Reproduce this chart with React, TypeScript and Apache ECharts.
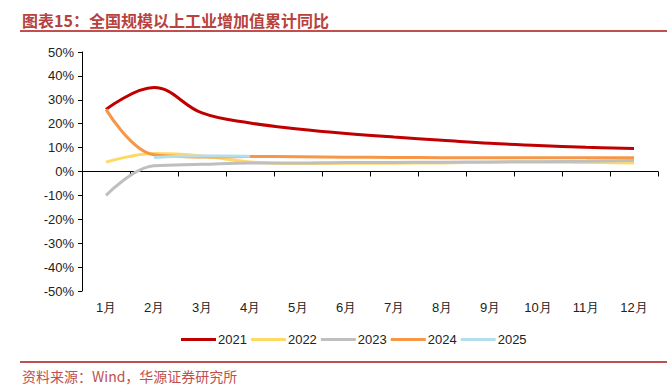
import React, { useEffect, useRef } from "react";
import * as echarts from "echarts";

const months = ["1月", "2月", "3月", "4月", "5月", "6月", "7月", "8月", "9月", "10月", "11月", "12月"];
const s2021 = [26.0, 35.1, 24.5, 20.3, 17.8, 15.9, 14.4, 13.1, 11.8, 10.9, 10.1, 9.6];
const s2022 = [3.9, 7.5, 6.5, 4.0, 3.3, 3.4, 3.5, 3.6, 3.9, 4.0, 3.8, 3.6];
const s2023 = [-10.0, 2.4, 3.0, 3.6, 3.6, 3.8, 3.8, 3.9, 4.0, 4.1, 4.3, 4.6];
const s2024 = [26.0, 7.0, 6.1, 6.3, 6.2, 6.0, 5.9, 5.8, 5.8, 5.8, 5.8, 5.8];
const s2025 = [null, 5.9, 6.5, 6.4, null, null, null, null, null, null, null, null];
const seriesNames = ["2021", "2022", "2023", "2024", "2025"];
const seriesColors = ["#C00000", "#FFD966", "#BFBFBF", "#F79646", "#B4DEEA"];
const seriesData = [s2021, s2022, s2023, s2024, s2025];

export default function App() {
  const ref = useRef<HTMLDivElement>(null);
  useEffect(() => {
    if (!ref.current) return;
    const chart = echarts.init(ref.current, null, { renderer: "svg" });
    const font = "'Liberation Sans', Arial, sans-serif";
    chart.setOption({
      animation: false,
      textStyle: { fontFamily: font },
      grid: { left: 82, right: 9, top: 52, bottom: 97 },
      legend: {
        left: 176,
        top: 328,
        itemWidth: 35,
        itemHeight: 3,
        itemGap: 4,
        icon: "rect",
        textStyle: { fontSize: 13, color: "#222", fontFamily: font, padding: [0, 0, 0, -3] },
        data: seriesNames,
      },
      xAxis: [
        {
          type: "category",
          data: months,
          boundaryGap: true,
          axisLine: { onZero: true, lineStyle: { color: "#000", width: 1 } },
          axisTick: { show: true, length: 5, inside: false, lineStyle: { color: "#000" } },
          axisLabel: { show: false },
          splitLine: { show: false },
        },
        {
          type: "category",
          data: months,
          position: "bottom",
          boundaryGap: true,
          axisLine: { show: false, onZero: false },
          axisTick: { show: false },
          axisLabel: { show: true, fontSize: 13, color: "#222", margin: 10, fontFamily: font },
          splitLine: { show: false },
        },
      ],
      yAxis: {
        type: "value",
        min: -50,
        max: 50,
        interval: 10,
        axisLine: { show: true, lineStyle: { color: "#000" } },
        axisTick: { show: true, length: 4, lineStyle: { color: "#000" } },
        splitLine: { show: false },
        axisLabel: { formatter: "{value}%", fontSize: 13, color: "#222", margin: 8, fontFamily: font },
      },
      series: seriesNames.map((n, i) => ({
        name: n,
        type: "line",
        xAxisIndex: 0,
        data: seriesData[i],
        smooth: 0.4,
        symbol: "none",
        connectNulls: false,
        lineStyle: { color: seriesColors[i], width: 3 },
        itemStyle: { color: seriesColors[i] },
      })),
      graphic: [
        {
          type: "text",
          left: 22,
          top: 12,
          style: {
            text: "图表15：全国规模以上工业增加值累计同比",
            fill: "#B8423D",
            font: "bold 16px 'Noto Sans CJK SC', sans-serif",
          },
        },
        { type: "rect", shape: { x: 20, y: 30, width: 647, height: 2 }, style: { fill: "#C0504D" } },
        { type: "rect", shape: { x: 20, y: 361, width: 647, height: 2 }, style: { fill: "#C0504D" } },
        {
          type: "text",
          left: 22,
          top: 369,
          style: {
            text: "资料来源：Wind，华源证券研究所",
            fill: "#C0504D",
            font: "14px 'Noto Sans CJK SC', sans-serif",
          },
        },
      ],
    });
    return () => chart.dispose();
  }, []);
  return <div ref={ref} style={{ position: "fixed", left: 0, top: 0, width: 667, height: 388, background: "#fff" }} />;
}
